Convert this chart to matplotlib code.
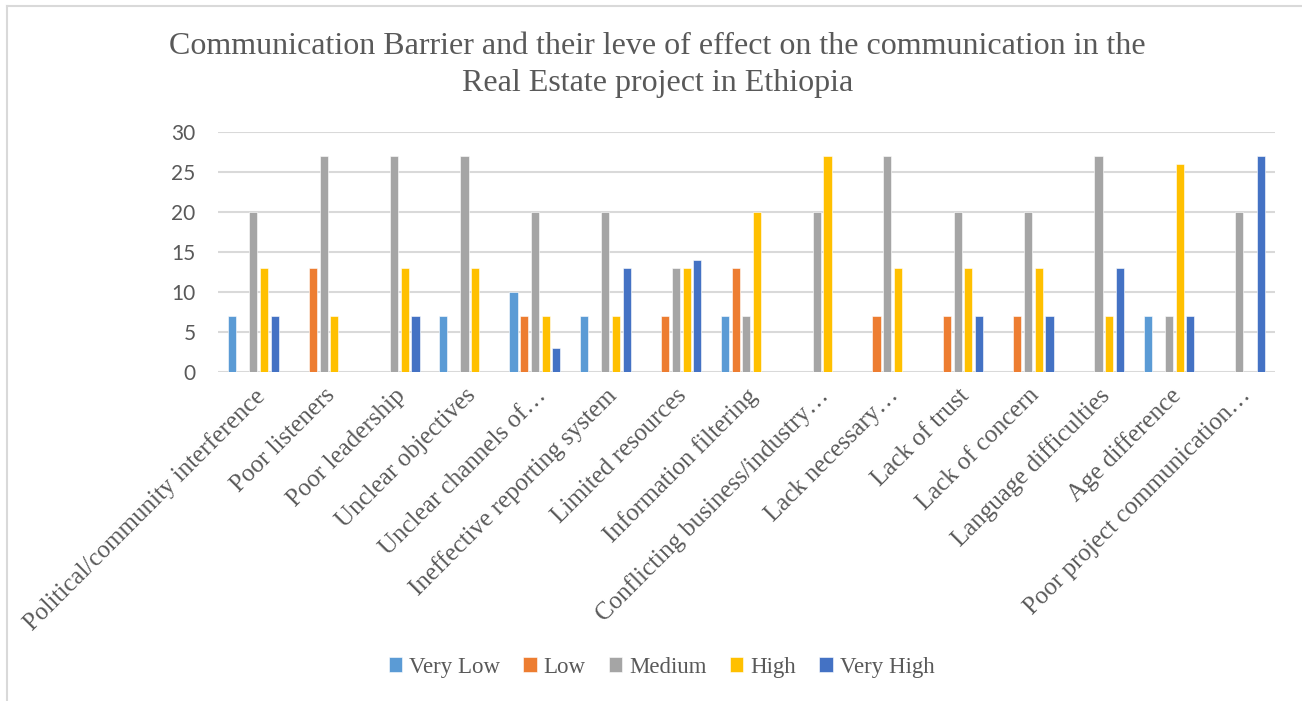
import matplotlib
matplotlib.use("Agg")
import matplotlib.pyplot as plt
import numpy as np
from matplotlib.lines import Line2D

categories = [
    "Political/community interference",
    "Poor listeners",
    "Poor leadership",
    "Unclear objectives",
    "Unclear channels of…",
    "Ineffective reporting system",
    "Limited resources",
    "Information filtering",
    "Conflicting business/industry…",
    "Lack necessary…",
    "Lack of trust",
    "Lack of concern",
    "Language difficulties",
    "Age difference",
    "Poor project communication…",
]
series_names = ["Very Low", "Low", "Medium", "High", "Very High"]
very_low  = [7, 0, 0, 7, 10, 7, 0, 7, 0, 0, 0, 0, 0, 7, 0]
low       = [0, 13, 0, 0, 7, 0, 7, 13, 0, 7, 7, 7, 0, 0, 0]
medium    = [20, 27, 27, 27, 20, 20, 13, 7, 20, 27, 20, 20, 27, 7, 20]
high      = [13, 7, 13, 13, 7, 7, 13, 20, 27, 13, 13, 13, 7, 26, 0]
very_high = [7, 0, 7, 0, 3, 13, 14, 0, 0, 0, 7, 7, 13, 7, 27]
colors = ["#5B9BD5", "#ED7D31", "#A5A5A5", "#FFC000", "#4472C4"]

data = [very_low, low, medium, high, very_high]

fig = plt.figure(figsize=(13.02, 7.01), dpi=100)
ax = fig.add_axes([0.1674, 0.4693, 0.979 - 0.1674, 0.8117 - 0.4693])

x = np.arange(len(categories))
step = 0.152
width = 0.115
for i, (vals, name, c) in enumerate(zip(data, series_names, colors)):
    ax.bar(x + (i - 2) * step, vals, width=width, color=c, label=name,
           edgecolor="white", linewidth=0.4, zorder=3)

ax.set_xlim(-0.5, len(categories) - 0.5)
ax.set_ylim(0, 30)
ax.set_yticks(range(0, 31, 5))
ax.yaxis.grid(True, color="#D9D9D9", linewidth=1.5, zorder=0)
ax.set_axisbelow(True)
for s in ax.spines.values():
    s.set_visible(False)
ax.tick_params(axis="both", length=0)
ax.tick_params(axis="y", pad=16)
for lab in ax.get_yticklabels():
    lab.set_fontfamily("Lato")
    lab.set_fontsize(15)
    lab.set_color("#595959")

ax.set_xticks(x)
ax.set_xticklabels(categories, rotation=45, ha="right", rotation_mode="anchor",
                   fontfamily="Liberation Serif", fontsize=18, color="#595959")
ax.tick_params(axis="x", pad=9)

fig.text(0.505, 0.933, "Communication Barrier and their leve of effect on the communication in the",
         ha="center", va="center", fontfamily="Liberation Serif", fontsize=23, color="#595959")
fig.text(0.505, 0.881, "Real Estate project in Ethiopia",
         ha="center", va="center", fontfamily="Liberation Serif", fontsize=23, color="#595959")

leg = fig.legend(loc="center", bbox_to_anchor=(0.508, 0.0485), ncol=5, frameon=False,
                 prop={"family": "Liberation Serif", "size": 16.5},
                 handlelength=0.6, handleheight=0.6, handletextpad=0.3, columnspacing=1.0)
for t in leg.get_texts():
    t.set_color("#595959")

fig.add_artist(Line2D([7 / 1302, 1.0], [1 - 5.5 / 701, 1 - 5.5 / 701],
                      transform=fig.transFigure, color="#D9D9D9", linewidth=1.5))
fig.add_artist(Line2D([7 / 1302, 7 / 1302], [0.0, 1 - 5.5 / 701],
                      transform=fig.transFigure, color="#D9D9D9", linewidth=1.5))

fig.savefig("out.png", dpi=100, facecolor="white")
